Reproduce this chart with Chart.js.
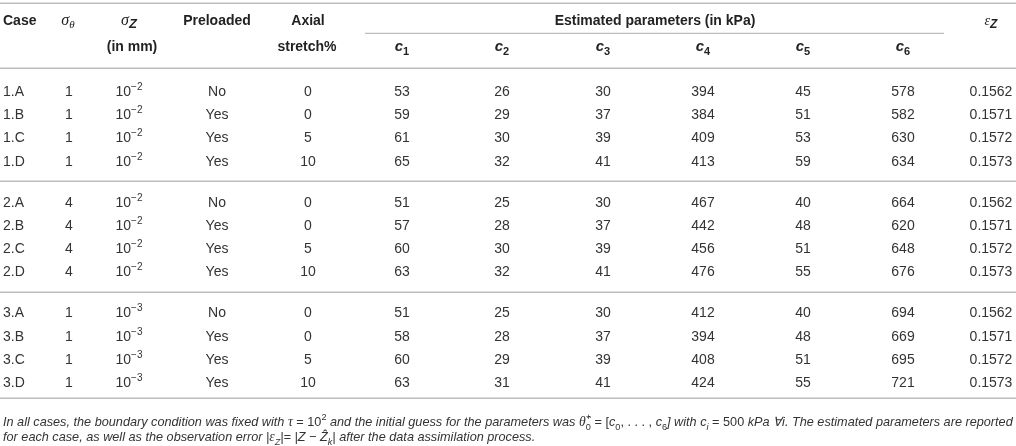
<!DOCTYPE html>
<html>
<head>
<meta charset="utf-8">
<script src="https://cdn.jsdelivr.net/npm/chart.js@4.4.1/dist/chart.umd.min.js"></script>
<style>
html, body { margin: 0; padding: 0; background: #fff; }
#wrap { width: 1016px; height: 446px; }
</style>
</head>
<body>
<div id="wrap"><canvas id="tbl" width="1016" height="446"></canvas></div>
<script>
// donnees du tableau
const cases = ['1.A', '1.B', '1.C', '1.D', '2.A', '2.B', '2.C', '2.D', '3.A', '3.B', '3.C', '3.D'];
const sigmaTheta = [1, 1, 1, 1, 4, 4, 4, 4, 1, 1, 1, 1];
const sigmaZExp = ['−2', '−2', '−2', '−2', '−2', '−2', '−2', '−2', '−3', '−3', '−3', '−3'];
const preloaded = ['No', 'Yes', 'Yes', 'Yes', 'No', 'Yes', 'Yes', 'Yes', 'No', 'Yes', 'Yes', 'Yes'];
const stretch = [0, 0, 5, 10, 0, 0, 5, 10, 0, 0, 5, 10];
const c1 = [53, 59, 61, 65, 51, 57, 60, 63, 51, 58, 60, 63];
const c2 = [26, 29, 30, 32, 25, 28, 30, 32, 25, 28, 29, 31];
const c3 = [30, 37, 39, 41, 30, 37, 39, 41, 30, 37, 39, 41];
const c4 = [394, 384, 409, 413, 467, 442, 456, 476, 412, 394, 408, 424];
const c5 = [45, 51, 53, 59, 40, 48, 51, 55, 40, 48, 51, 55];
const c6 = [578, 582, 630, 634, 664, 620, 648, 676, 694, 669, 695, 721];
const epsZ = ['0.1562', '0.1571', '0.1572', '0.1573', '0.1562', '0.1571', '0.1572', '0.1573', '0.1562', '0.1571', '0.1572', '0.1573'];

const columns = [cases, sigmaTheta, sigmaZExp, preloaded, stretch, c1, c2, c3, c4, c5, c6, epsZ];

// mise en page (x en px, y en "lignes")
const colX = [3, 69, 129, 217, 308, 402, 502, 603, 703, 803, 903, 991];
const rowY = cases.map((_, i) => Math.floor(i / 4) * 4.75 + i % 4);
const head1 = -3.05, head2 = -1.93;
const rules = [-3.78, -1, 3.875, 8.625, 13.2];
const foot = [14.2, 14.85];

const SANS = '"Liberation Sans", Arial, sans-serif';
const SERIF = '"Liberation Serif", serif';
const HEAD = '#222';
const TXT = '#333';

function f(style, size, fam) { return style + ' ' + size + 'px ' + fam; }

// dessine une suite de morceaux de texte (indices, exposants...)
function drawRuns(ctx, runs, x, y, align, color) {
    let w = 0;
    runs.forEach(function (r) {
        ctx.font = r.font;
        r.w = ctx.measureText(r.t).width;
        if (!r.stack) w += r.w;
    });
    let cx = align === 'center' ? x - w / 2 : (align === 'right' ? x - w : x);
    let prevX = cx;
    runs.forEach(function (r) {
        let dx = cx;
        if (r.stack) dx = prevX;
        ctx.font = r.font;
        ctx.fillStyle = r.color || color;
        ctx.fillText(r.t, dx, y + (r.dy || 0));
        if (r.stack) {
            cx = Math.max(cx, dx + r.w);
        } else {
            prevX = dx;
            cx = dx + r.w;
        }
    });
    return w;
}

function runsWidth(ctx, runs) {
    let w = 0;
    runs.forEach(function (r) {
        ctx.font = r.font;
        if (!r.stack) w += ctx.measureText(r.t).width;
    });
    return w;
}

const headers = [
    { x: colX[0], row: head1, align: 'left', runs: [{ t: 'Case', font: f('bold', 14, SANS) }] },
    { x: 68, row: head1, runs: [{ t: 'σ', font: f('italic', 16, SERIF) }, { t: 'θ', font: f('italic', 11, SERIF), dy: 3 }] },
    { x: 129, row: head1, runs: [{ t: 'σ', font: f('italic', 16, SERIF) }, { t: 'Z', font: f('bold italic', 13, SANS), dy: 3 }] },
    { x: 132, row: head2, runs: [{ t: '(in mm)', font: f('bold', 14, SANS) }] },
    { x: colX[3], row: head1, runs: [{ t: 'Preloaded', font: f('bold', 14, SANS) }] },
    { x: colX[4], row: head1, runs: [{ t: 'Axial', font: f('bold', 14, SANS) }] },
    { x: 307, row: head2, runs: [{ t: 'stretch%', font: f('bold', 14, SANS) }] },
    { x: 655, row: head1, runs: [{ t: 'Estimated parameters (in kPa)', font: f('bold', 14, SANS) }] },
    { x: colX[11], row: head1, runs: [{ t: 'ε', font: f('italic', 14, SERIF) }, { t: 'Z', font: f('bold italic', 12, SANS), dy: 3 }] }
];
for (let k = 1; k <= 6; k++) {
    headers.push({ x: colX[4 + k], row: head2, runs: [{ t: 'c', font: f('bold italic', 15, SANS) }, { t: String(k), font: f('bold', 11, SANS), dy: 4 }] });
}

function footRuns(s) {
    const it = f('italic', s, SANS), up = f('normal', s, SANS), gr = f('italic', s + 1, SERIF);
    const sm = f('italic', s * 0.72, SANS), smu = f('normal', s * 0.72, SANS);
    return [
        [
            { t: 'In all cases, the boundary condition was fixed with ', font: it },
            { t: 'τ', font: gr },
            { t: ' = 10', font: up },
            { t: '2', font: smu, dy: -s * 0.45 },
            { t: ' and the initial guess for the parameters was ', font: it },
            { t: 'θ\u0302', font: gr },
            { t: '0', font: smu, dy: s * 0.3 },
            { t: '+', font: smu, dy: -s * 0.45, stack: true },
            { t: ' = [', font: up },
            { t: 'c', font: it },
            { t: '0', font: smu, dy: s * 0.3 },
            { t: ', . . . , ', font: up },
            { t: 'c', font: it },
            { t: '6', font: smu, dy: s * 0.3 },
            { t: '] with ', font: it },
            { t: 'c', font: it },
            { t: 'i', font: sm, dy: s * 0.3 },
            { t: ' = 500 ', font: up },
            { t: 'kPa ∀i. The estimated parameters are reported', font: it }
        ],
        [
            { t: 'for each case, as well as the observation error |', font: it },
            { t: 'ε', font: gr },
            { t: 'Z', font: sm, dy: s * 0.3 },
            { t: '|= |Z − ', font: it },
            { t: 'Z\u0302', font: it },
            { t: 'k', font: sm, dy: s * 0.3 },
            { t: '| after the data assimilation process.', font: it }
        ]
    ];
}

const tablePlugin = {
    id: 'tablePlugin',
    afterDatasetsDraw(chart) {
        const ctx = chart.ctx;
        const xs = chart.scales.x, ys = chart.scales.y;
        ctx.save();
        ctx.textBaseline = 'alphabetic';

        // filets
        ctx.strokeStyle = '#bdbdbd';
        ctx.lineWidth = 1.5;
        rules.forEach(function (r) {
            const py = Math.round(ys.getPixelForValue(r)) + 0.25;
            ctx.beginPath();
            ctx.moveTo(xs.getPixelForValue(0), py);
            ctx.lineTo(xs.getPixelForValue(1016), py);
            ctx.stroke();
        });
        ctx.lineWidth = 1.2;
        const pu = Math.round(ys.getPixelForValue(-2.5)) + 0.4;
        ctx.beginPath();
        ctx.moveTo(xs.getPixelForValue(365), pu);
        ctx.lineTo(xs.getPixelForValue(944), pu);
        ctx.stroke();

        // en-tetes
        headers.forEach(function (h) {
            drawRuns(ctx, h.runs, xs.getPixelForValue(h.x), ys.getPixelForValue(h.row) + 5, h.align || 'center', HEAD);
        });

        // cellules
        chart.data.datasets.forEach(function (ds, k) {
            const meta = chart.getDatasetMeta(k);
            meta.data.forEach(function (pt, i) {
                const v = columns[k][i];
                const y = pt.y + 5;
                let runs;
                if (k === 2) {
                    runs = [{ t: '10', font: f('normal', 14, SANS) }, { t: v, font: f('normal', 10, SANS), dy: -6 }];
                } else {
                    runs = [{ t: String(v), font: f('normal', 14, SANS) }];
                }
                drawRuns(ctx, runs, pt.x, y, k === 0 ? 'left' : 'center', TXT);
            });
        });

        // note
        let size = 12.5;
        const w0 = runsWidth(ctx, footRuns(size)[0]);
        size = size * 1010 / w0;
        const lines = footRuns(size);
        lines.forEach(function (ln, j) {
            drawRuns(ctx, ln, xs.getPixelForValue(3), ys.getPixelForValue(foot[j]) + 4, 'left', TXT);
        });
        ctx.restore();
    }
};

const datasets = columns.map(function (col, k) {
    return {
        label: 'col' + k,
        data: col.map(function (_, i) { return { x: colX[k], y: rowY[i] }; }),
        pointRadius: 0,
        showLine: false
    };
});

const chart = new Chart(document.getElementById('tbl'), {
    type: 'scatter',
    data: { datasets: datasets },
    options: {
        responsive: false,
        animation: false,
        devicePixelRatio: 1,
        layout: { padding: 0 },
        plugins: { legend: { display: false }, tooltip: { enabled: false } },
        scales: {
            x: { type: 'linear', min: 0, max: 1016, display: false },
            y: { type: 'linear', min: -3.9, max: 15.24, reverse: true, display: false }
        }
    },
    plugins: [tablePlugin]
});
</script>
</body>
</html>
